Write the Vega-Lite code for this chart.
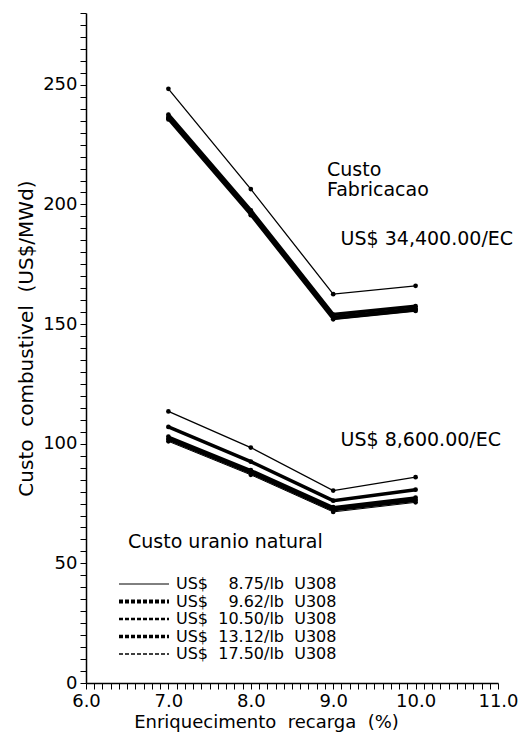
{
  "$schema": "https://vega.github.io/schema/vega-lite/v6.json",
  "width": 412,
  "height": 670,
  "autosize": {"type": "none"},
  "padding": {"left": 86, "top": 13, "right": 25, "bottom": 50},
  "background": "white",
  "config": {
    "view": {"stroke": null},
    "font": "DejaVu Sans",
    "axis": {
      "grid": false,
      "domainColor": "black",
      "domainWidth": 1.5,
      "tickColor": "black",
      "tickWidth": 1,
      "tickSize": 6,
      "labelColor": "black",
      "labelFont": "DejaVu Sans",
      "labelFontSize": 18,
      "labelPadding": 3,
      "labelOverlap": false,
      "labelFlush": false,
      "titleColor": "black",
      "titleFont": "DejaVu Sans",
      "titleFontSize": 20,
      "titleFontWeight": "normal"
    }
  },
  "datasets": {
    "lines": [
      {"grupo": "34400", "series": "8.75", "x": 7, "y": 235.5},
      {"grupo": "34400", "series": "8.75", "x": 8, "y": 195.5},
      {"grupo": "34400", "series": "8.75", "x": 9, "y": 152},
      {"grupo": "34400", "series": "8.75", "x": 10, "y": 155.5},
      {"grupo": "34400", "series": "9.62", "x": 7, "y": 236},
      {"grupo": "34400", "series": "9.62", "x": 8, "y": 196},
      {"grupo": "34400", "series": "9.62", "x": 9, "y": 152.5},
      {"grupo": "34400", "series": "9.62", "x": 10, "y": 156},
      {"grupo": "34400", "series": "10.50", "x": 7, "y": 236.5},
      {"grupo": "34400", "series": "10.50", "x": 8, "y": 196.5},
      {"grupo": "34400", "series": "10.50", "x": 9, "y": 153},
      {"grupo": "34400", "series": "10.50", "x": 10, "y": 156.5},
      {"grupo": "34400", "series": "13.12", "x": 7, "y": 237.5},
      {"grupo": "34400", "series": "13.12", "x": 8, "y": 197.5},
      {"grupo": "34400", "series": "13.12", "x": 9, "y": 154},
      {"grupo": "34400", "series": "13.12", "x": 10, "y": 157.5},
      {"grupo": "34400", "series": "17.50", "x": 7, "y": 248.3},
      {"grupo": "34400", "series": "17.50", "x": 8, "y": 206.4},
      {"grupo": "34400", "series": "17.50", "x": 9, "y": 162.5},
      {"grupo": "34400", "series": "17.50", "x": 10, "y": 166},
      {"grupo": "8600", "series": "8.75", "x": 7, "y": 101},
      {"grupo": "8600", "series": "8.75", "x": 8, "y": 87},
      {"grupo": "8600", "series": "8.75", "x": 9, "y": 71.5},
      {"grupo": "8600", "series": "8.75", "x": 10, "y": 75.5},
      {"grupo": "8600", "series": "9.62", "x": 7, "y": 102},
      {"grupo": "8600", "series": "9.62", "x": 8, "y": 88},
      {"grupo": "8600", "series": "9.62", "x": 9, "y": 72.5},
      {"grupo": "8600", "series": "9.62", "x": 10, "y": 76.5},
      {"grupo": "8600", "series": "10.50", "x": 7, "y": 103},
      {"grupo": "8600", "series": "10.50", "x": 8, "y": 89},
      {"grupo": "8600", "series": "10.50", "x": 9, "y": 73.5},
      {"grupo": "8600", "series": "10.50", "x": 10, "y": 77.5},
      {"grupo": "8600", "series": "13.12", "x": 7, "y": 107},
      {"grupo": "8600", "series": "13.12", "x": 8, "y": 92.5},
      {"grupo": "8600", "series": "13.12", "x": 9, "y": 76.2},
      {"grupo": "8600", "series": "13.12", "x": 10, "y": 80.8},
      {"grupo": "8600", "series": "17.50", "x": 7, "y": 113.5},
      {"grupo": "8600", "series": "17.50", "x": 8, "y": 98.4},
      {"grupo": "8600", "series": "17.50", "x": 9, "y": 80.4},
      {"grupo": "8600", "series": "17.50", "x": 10, "y": 86}
    ],
    "notes": [
      {"x": 8.925, "y": 214.4, "label": "Custo"},
      {"x": 8.925, "y": 206, "label": "Fabricacao"},
      {"x": 9.09, "y": 185.5, "label": "US$\u00a034,400.00/EC"},
      {"x": 9.09, "y": 101.5, "label": "US$\u00a08,600.00/EC"},
      {"x": 6.51, "y": 58.9, "label": "Custo uranio natural"}
    ]
  },
  "layer": [
    {
      "data": {"name": "lines"},
      "mark": {"type": "line", "color": "black", "strokeCap": "round"},
      "encoding": {
        "x": {
          "field": "x", "type": "quantitative",
          "scale": {"domain": [6, 11], "nice": false, "zero": false},
          "axis": {
            "title": "Enriquecimento\u00a0 recarga\u00a0 (%)",
            "titleFontSize": 18,
            "titleX": 180,
            "titleY": 39,
            "titleBaseline": "middle",
            "tickCount": 200,
            "values": [6.0,6.1,6.2,6.3,6.4,6.5,6.6,6.7,6.8,6.9,7.0,7.1,7.2,7.3,7.4,7.5,7.6,7.7,7.8,7.9,8.0,8.1,8.2,8.3,8.4,8.5,8.6,8.7,8.8,8.9,9.0,9.1,9.2,9.3,9.4,9.5,9.6,9.7,9.8,9.9,10.0,10.1,10.2,10.3,10.4,10.5,10.6,10.7,10.8,10.9,11.0],
            "labelExpr": "abs(datum.value - round(datum.value)) < 0.001 ? format(datum.value, '.1f') : ''"
          }
        },
        "y": {
          "field": "y", "type": "quantitative",
          "scale": {"domain": [0, 280], "nice": false},
          "axis": {
            "title": "Custo\u00a0 combustivel\u00a0 (US$/MWd)",
            "titleY": 325,
            "titlePadding": 6,
            "tickCount": 200,
            "values": [0,5,10,15,20,25,30,35,40,45,50,55,60,65,70,75,80,85,90,95,100,105,110,115,120,125,130,135,140,145,150,155,160,165,170,175,180,185,190,195,200,205,210,215,220,225,230,235,240,245,250,255,260,265,270,275,280],
            "labelExpr": "datum.value % 50 == 0 ? format(datum.value, 'd') : ''"
          }
        },
        "detail": {"field": "grupo", "type": "nominal"},
        "strokeWidth": {
          "field": "series", "type": "ordinal",
          "scale": {"type": "ordinal", "domain": ["8.75", "9.62", "10.50", "13.12", "17.50"], "range": [1, 4, 2.5, 3.5, 1.3]},
          "legend": {
            "orient": "none",
            "legendX": 50,
            "legendY": 563,
            "title": null,
            "padding": 0,
            "symbolType": "M-5,0H5",
            "symbolSize": 100,
            "symbolStrokeColor": "black",
            "symbolFillColor": "transparent",
            "labelFont": "DejaVu Sans",
            "labelFontSize": 16,
            "labelColor": "black",
            "labelOffset": 24,
            "labelLimit": 400,
            "rowPadding": 1.5,
            "labelExpr": "'US$\u00a0\u00a0' + (length(datum.label) < 5 ? '\u00a0\u00a0' : '') + datum.label + '/lb\u00a0\u00a0U308'",
            "encode": {
              "symbols": {
                "update": {
                  "strokeDash": {"signal": "datum.value == '8.75' ? [] : [4, 2]"}
                }
              }
            }
          }
        }
      }
    },
    {
      "data": {"name": "lines"},
      "mark": {"type": "point", "filled": true, "color": "black", "size": 22, "opacity": 1},
      "encoding": {
        "x": {"field": "x", "type": "quantitative"},
        "y": {"field": "y", "type": "quantitative"}
      }
    },
    {
      "data": {"name": "notes"},
      "mark": {"type": "text", "align": "left", "baseline": "middle", "font": "DejaVu Sans", "fontSize": 19, "color": "black"},
      "encoding": {
        "x": {"field": "x", "type": "quantitative"},
        "y": {"field": "y", "type": "quantitative"},
        "text": {"field": "label", "type": "nominal"}
      }
    }
  ]
}
